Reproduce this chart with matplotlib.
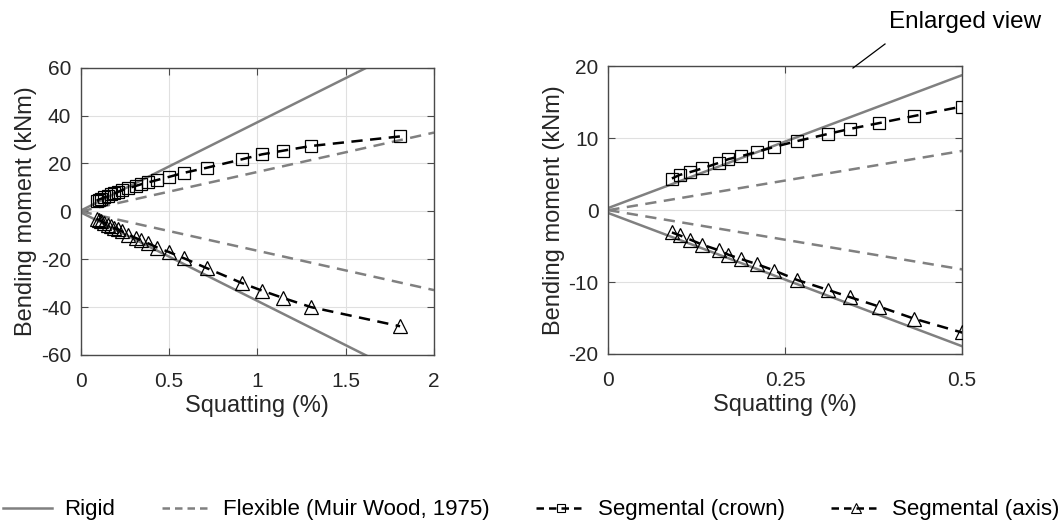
import matplotlib
matplotlib.use("Agg")
import matplotlib.pyplot as plt
from matplotlib.lines import Line2D

plt.rcParams['font.family'] = ['Liberation Sans', 'DejaVu Sans']
plt.rcParams['axes.unicode_minus'] = False

# ---- data ----
line_x = [0.0, 2.0]
rigid_upper = [0.3, 74.1]
rigid_lower = [-0.4, -74.4]
flex_upper = [0.0, 32.9]
flex_lower = [0.0, -32.9]

seg_x = [0.090, 0.101, 0.116, 0.133, 0.157, 0.170, 0.188, 0.210, 0.235, 0.267,
         0.311, 0.342, 0.383, 0.433, 0.500, 0.585, 0.713, 0.911, 1.026, 1.143,
         1.304, 1.808]
crown_y = [4.4, 4.9, 5.3, 5.8, 6.6, 7.1, 7.5, 8.1, 8.8, 9.6,
           10.6, 11.3, 12.1, 13.1, 14.4, 16.1, 18.2, 21.7, 23.8, 25.3,
           27.3, 31.3]
axis_y = [-3.1, -3.5, -4.1, -4.8, -5.6, -6.2, -6.8, -7.5, -8.4, -9.7,
          -11.1, -12.1, -13.4, -15.1, -17.0, -19.6, -23.7, -29.9, -33.1, -36.1,
          -40.0, -48.0]

left_xticks = [0, 0.5, 1, 1.5, 2]
left_xticklabels = ['0', '0.5', '1', '1.5', '2']
left_yticks = [-60, -40, -20, 0, 20, 40, 60]
right_xticks = [0, 0.25, 0.5]
right_xticklabels = ['0', '0.25', '0.5']
right_yticks = [-20, -10, 0, 10, 20]

labels = ['Rigid', 'Flexible (Muir Wood, 1975)', 'Segmental (crown)', 'Segmental (axis)']

W, H = 1063, 531
fig = plt.figure(figsize=(W / 100, H / 100), dpi=100)

GRAY = '#808080'
AXC = '#262626'
FRAME = '#4a4a4a'


def make_ax(x0, x1, ytop, ybot):
    return fig.add_axes([x0 / W, 1 - ybot / H, (x1 - x0) / W, (ybot - ytop) / H])


def draw(ax, xlim, ylim, xticks, xticklabels, yticks):
    ax.plot(line_x, rigid_upper, color=GRAY, lw=1.8, zorder=2)
    ax.plot(line_x, rigid_lower, color=GRAY, lw=1.8, zorder=2)
    ax.plot(line_x, flex_upper, color=GRAY, lw=1.8, ls=(0, (4.5, 3)), zorder=2)
    ax.plot(line_x, flex_lower, color=GRAY, lw=1.8, ls=(0, (4.5, 3)), zorder=2)
    ax.plot(seg_x, crown_y, color='black', lw=1.8, ls=(0, (4.5, 3)),
            marker='s', ms=8.5, mfc='none', mec='black', mew=0.9, zorder=3)
    ax.plot(seg_x, axis_y, color='black', lw=1.8, ls=(0, (4.5, 3)),
            marker='^', ms=10, mfc='none', mec='black', mew=0.9, zorder=3)
    ax.set_xlim(*xlim)
    ax.set_ylim(*ylim)
    ax.set_xticks(xticks)
    ax.set_xticklabels(xticklabels)
    ax.set_yticks(yticks)
    ax.grid(True, color='#e0e0e0', lw=0.8, zorder=0)
    ax.set_axisbelow(True)
    for s in ax.spines.values():
        s.set_color(FRAME)
        s.set_linewidth(1.0)
    ax.tick_params(direction='in', length=5, width=0.8, color=FRAME,
                   labelsize=15, labelcolor=AXC, top=True, right=True)
    ax.tick_params(axis='x', pad=12)
    ax.tick_params(axis='y', pad=7)
    ax.set_xlabel('Squatting (%)', fontsize=17, color=AXC, labelpad=3)
    ax.set_ylabel('Bending moment (kNm)', fontsize=17, color=AXC, labelpad=2.5)


ax1 = make_ax(80.7, 434, 67.7, 355)
draw(ax1, (0, 2), (-60, 60), left_xticks, left_xticklabels, left_yticks)

ax2 = make_ax(608.3, 961.7, 66.3, 354)
draw(ax2, (0, 0.5), (-20, 20), right_xticks, right_xticklabels, right_yticks)

# annotation
fig.text(889 / W, 1 - 22 / H, 'Enlarged view', fontsize=17.5, color='black',
         ha='left', va='center')
fig.add_artist(Line2D([853 / W, 885 / W], [1 - 68 / H, 1 - 44 / H],
                      color='black', lw=0.9, transform=fig.transFigure))

handles = [
    Line2D([], [], color=GRAY, lw=1.8),
    Line2D([], [], color=GRAY, lw=1.8, ls=(0, (3, 2))),
    Line2D([], [], color='black', lw=1.8, ls=(0, (3, 2)), marker='s', ms=6,
           mfc='none', mec='black', mew=0.8),
    Line2D([], [], color='black', lw=1.8, ls=(0, (3, 2)), marker='^', ms=7,
           mfc='none', mec='black', mew=0.8),
]
fig.legend(handles, labels, loc='center', bbox_to_anchor=(0.5, 1 - 510 / H),
           ncol=4, frameon=False, fontsize=16, handlelength=2.2,
           handletextpad=0.55, columnspacing=2.1, borderpad=0, borderaxespad=0)

fig.savefig('out.png', dpi=100)
